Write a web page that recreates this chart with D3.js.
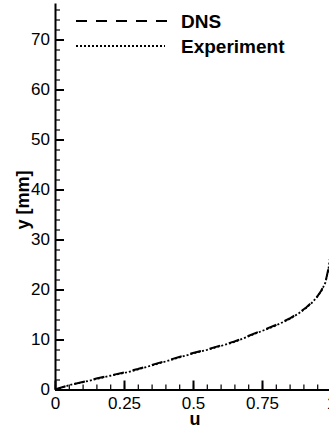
<!DOCTYPE html>
<html>
<head>
<meta charset="utf-8">
<script src="https://cdn.jsdelivr.net/npm/d3@7"></script>
<style>
  body { margin: 0; background: #fff; }
  svg { display: block; font-family: "Liberation Sans", Arial, sans-serif; }
</style>
</head>
<body>
<svg id="chart" width="329" height="429"></svg>
<script>
// boundary layer profile: velocity u vs wall distance y [mm]
const dnsU = [0, 0.02, 0.05, 0.1, 0.15, 0.2, 0.25, 0.3, 0.35, 0.4, 0.45, 0.5, 0.55, 0.6, 0.65, 0.7, 0.75, 0.8, 0.85, 0.88, 0.91, 0.93, 0.95, 0.965, 0.98, 0.99, 0.995];
const dnsY = [0, 0.35, 0.85, 1.5, 2.2, 2.8, 3.4, 4.1, 4.9, 5.7, 6.5, 7.3, 8.0, 8.8, 9.6, 10.7, 11.8, 12.9, 14.2, 15.2, 16.4, 17.4, 18.6, 19.8, 21.5, 24.0, 26.0];

const expU = [0, 0.03, 0.06, 0.1, 0.15, 0.2, 0.25, 0.3, 0.35, 0.4, 0.45, 0.5, 0.55, 0.6, 0.65, 0.7, 0.75, 0.8, 0.85, 0.88, 0.91, 0.93, 0.95, 0.965, 0.98, 0.99, 0.995];
const expY = [0, 0.5, 1.0, 1.45, 2.1, 2.75, 3.3, 4.0, 4.8, 5.6, 6.4, 7.2, 7.9, 8.7, 9.5, 10.6, 11.7, 12.8, 14.1, 15.1, 16.3, 17.3, 18.5, 19.7, 21.4, 23.8, 25.8];

const xTicks = [0, 0.25, 0.5, 0.75, 1];
const yTicks = [0, 10, 20, 30, 40, 50, 60, 70];
const legendLabels = ["DNS", "Experiment"];

const svg = d3.select("#chart");
const x = d3.scaleLinear().domain([0, 1]).range([55, 331]);
const y = d3.scaleLinear().domain([0, 77.3]).range([389.5, 3]);

svg.append("defs").append("clipPath").attr("id", "plot")
  .append("rect").attr("x", 55).attr("y", 3).attr("width", 274).attr("height", 386.5);

// minor ticks
svg.append("g")
  .attr("transform", `translate(0,${y(0)})`)
  .call(d3.axisBottom(x).tickValues(d3.range(0, 1.0001, 0.05)).tickSize(-5).tickFormat(""))
  .call(g => g.select(".domain").remove())
  .call(g => g.selectAll("line").attr("stroke-width", 1.2));
svg.append("g")
  .attr("transform", `translate(${x(0)},0)`)
  .call(d3.axisLeft(y).tickValues(d3.range(0, 77, 2)).tickSize(-5).tickFormat(""))
  .call(g => g.select(".domain").remove())
  .call(g => g.selectAll("line").attr("stroke-width", 1.2));

// major ticks
const xAxis = svg.append("g")
  .attr("transform", `translate(0,${y(0)})`)
  .call(d3.axisBottom(x).tickValues(xTicks).tickSize(-9).tickSizeOuter(0).tickPadding(7)
    .tickFormat(d3.format("")));
const yAxis = svg.append("g")
  .attr("transform", `translate(${x(0)},0)`)
  .call(d3.axisLeft(y).tickValues(yTicks).tickSize(-9).tickSizeOuter(0).tickPadding(5));

[xAxis, yAxis].forEach(g => {
  g.select(".domain").attr("stroke-width", 2);
  g.selectAll("line").attr("stroke-width", 2);
  g.selectAll("text").attr("font-size", 17).attr("font-family", "Liberation Sans, Arial, sans-serif").attr("fill", "#000");
});

// axis titles
svg.append("text")
  .attr("x", 195).attr("y", 425)
  .attr("text-anchor", "middle")
  .attr("font-size", 18).attr("font-weight", "bold")
  .text("u");
svg.append("text")
  .attr("transform", "translate(29,200) rotate(-90)")
  .attr("text-anchor", "middle")
  .attr("font-size", 18).attr("font-weight", "bold")
  .text("y [mm]");

// curves
const line = d3.line().x(d => x(d[0])).y(d => y(d[1]));
const plot = svg.append("g").attr("clip-path", "url(#plot)");
plot.append("path")
  .datum(dnsU.map((u, i) => [u, dnsY[i]]))
  .attr("fill", "none").attr("stroke", "#000")
  .attr("stroke-width", 2).attr("stroke-dasharray", "11 9")
  .attr("d", line);
plot.append("path")
  .datum(expU.map((u, i) => [u, expY[i]]))
  .attr("fill", "none").attr("stroke", "#000")
  .attr("stroke-width", 1.8).attr("stroke-dasharray", "2 2")
  .attr("d", line);

// legend
const legend = svg.append("g");
const styles = [{ w: 2, dash: "11 9", x2: 167 }, { w: 1.8, dash: "2 2", x2: 165 }];
legendLabels.forEach((name, i) => {
  const ly = 21 + i * 25;
  legend.append("line")
    .attr("x1", 76).attr("x2", styles[i].x2).attr("y1", ly).attr("y2", ly)
    .attr("stroke", "#000").attr("stroke-width", styles[i].w)
    .attr("stroke-dasharray", styles[i].dash);
  legend.append("text")
    .attr("x", 181).attr("y", ly + 7)
    .attr("font-size", 19).attr("font-weight", "bold")
    .text(name);
});
</script>
</body>
</html>
